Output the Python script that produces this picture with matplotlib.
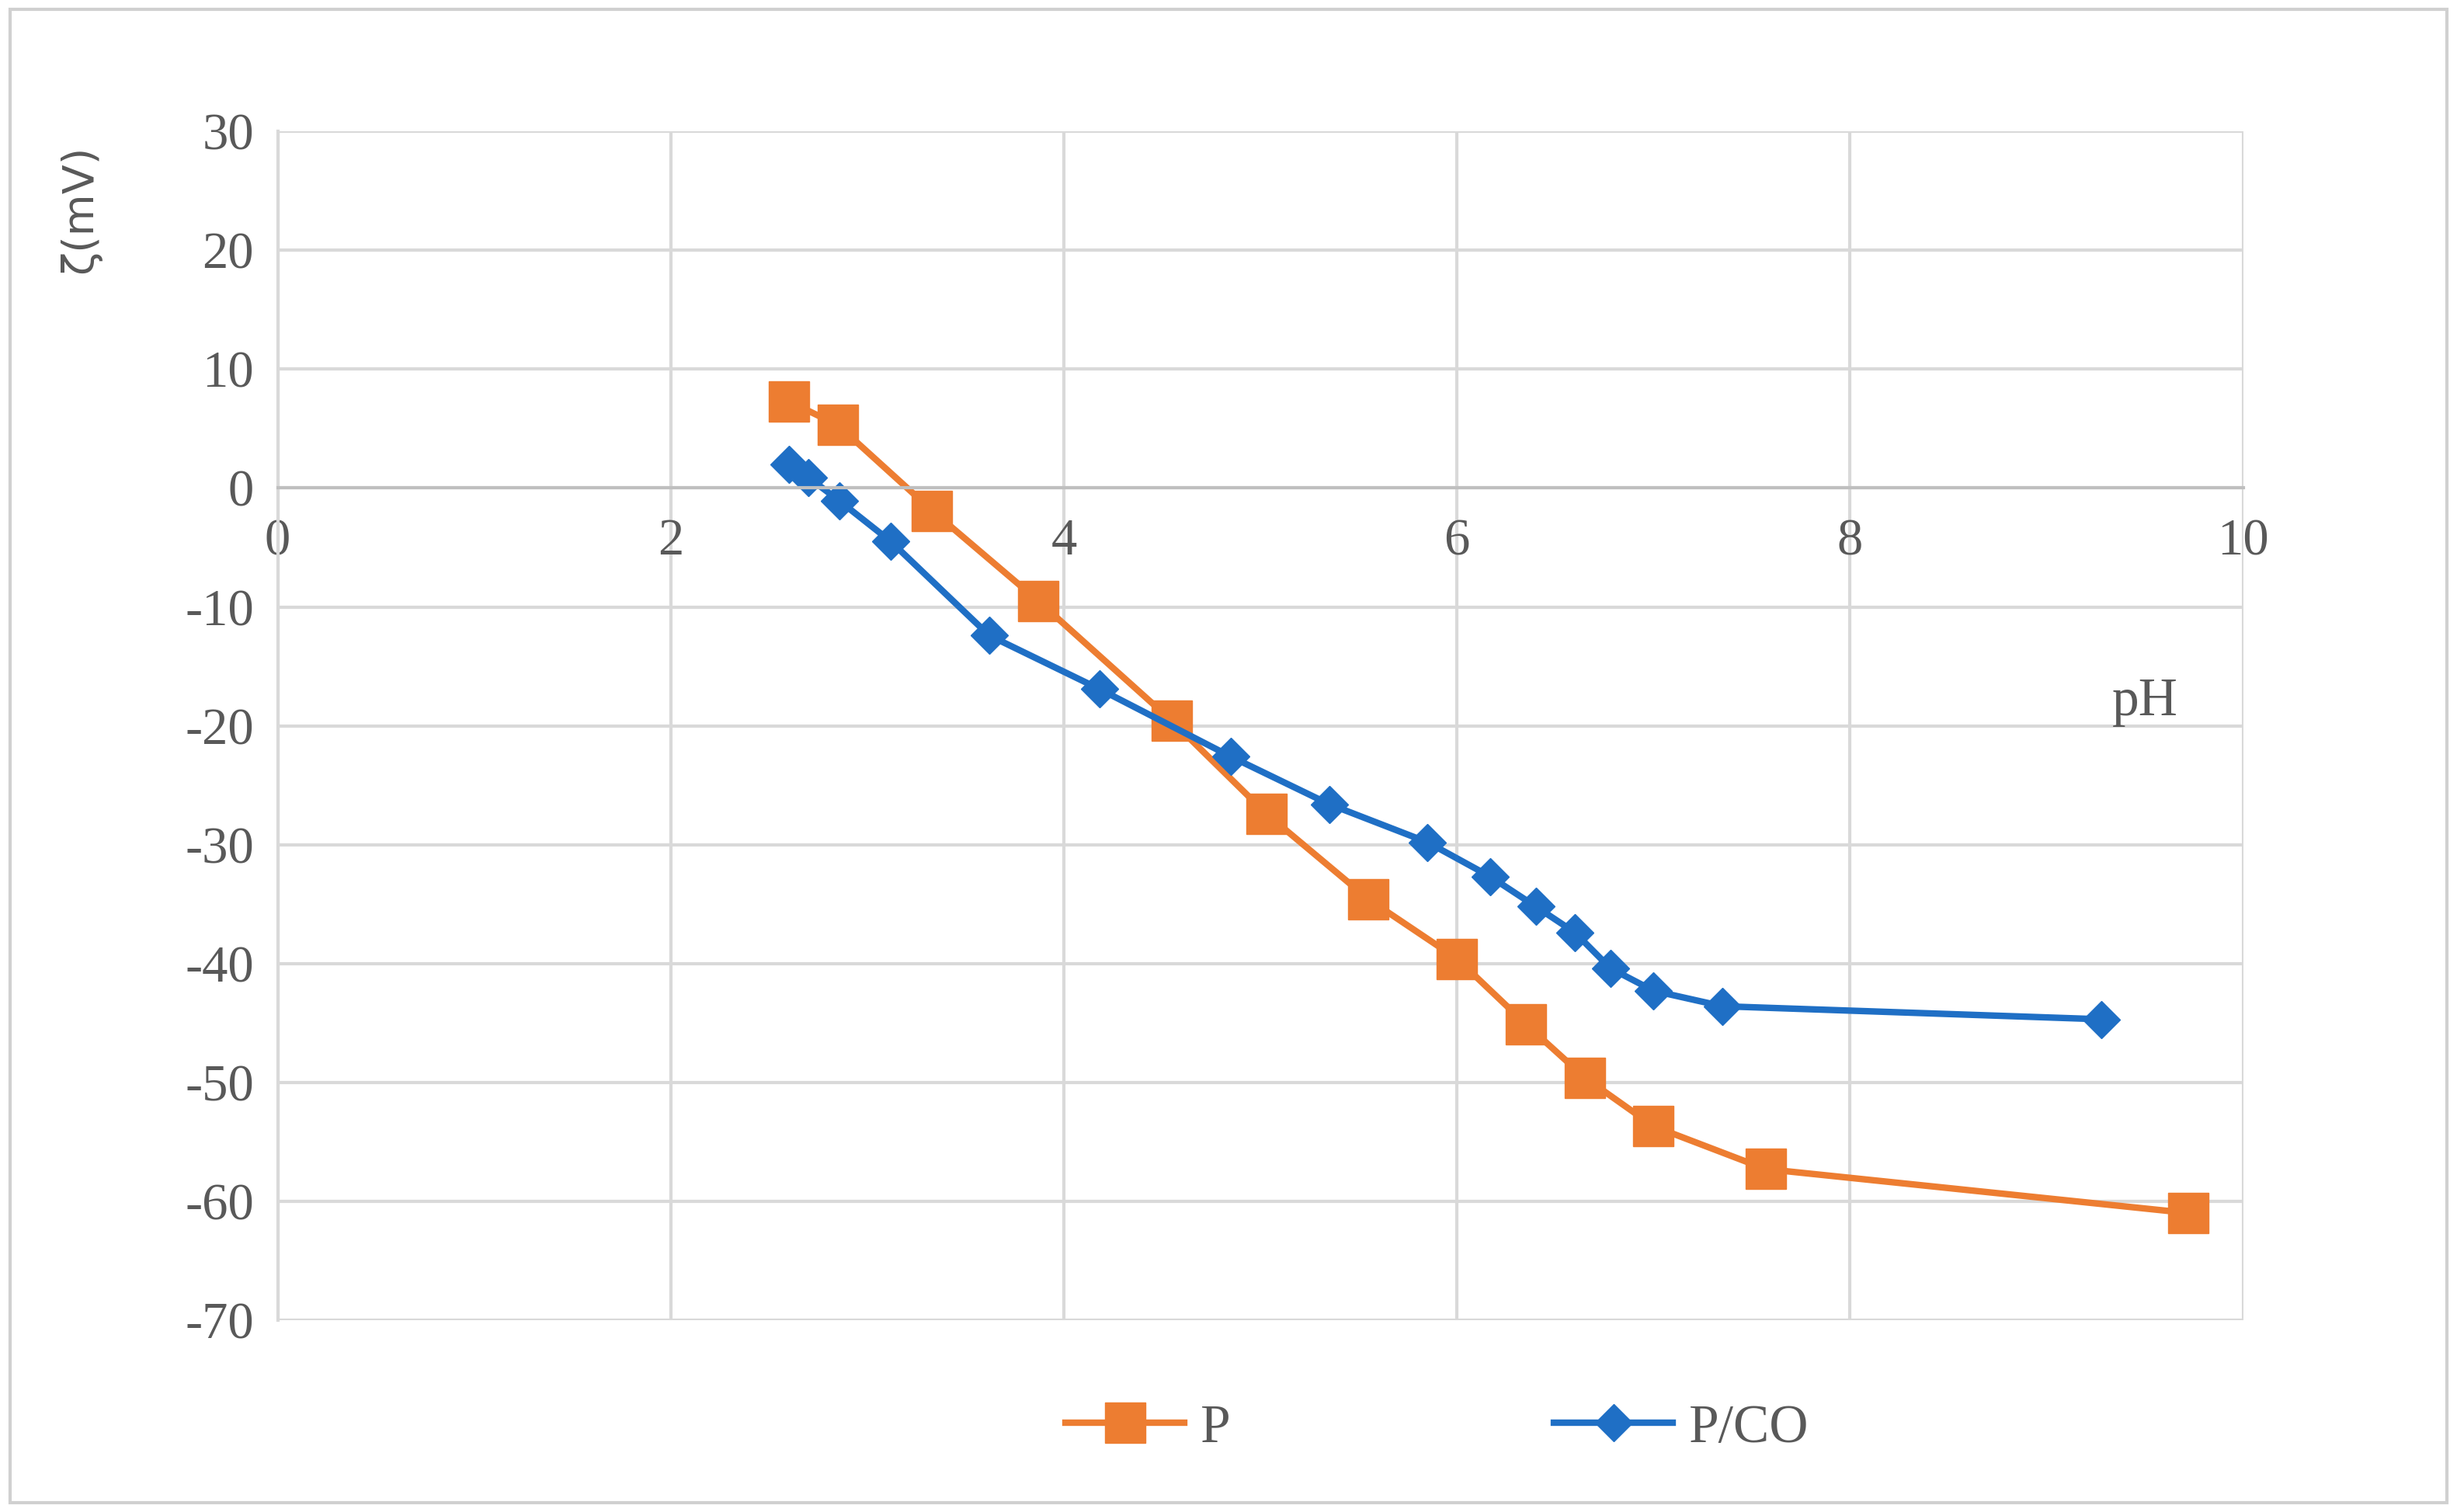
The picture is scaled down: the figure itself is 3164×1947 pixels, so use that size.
import matplotlib
matplotlib.use("Agg")
import matplotlib.pyplot as plt
from matplotlib.patches import Rectangle
plt.rcParams['axes.unicode_minus'] = False

p_x = [2.6, 2.85, 3.33, 3.87, 4.55, 5.03, 5.55, 6.0, 6.35, 6.65, 7.0, 7.57, 9.72]
p_y = [7.3, 5.3, -1.9, -9.5, -19.6, -27.4, -34.6, -39.6, -45.1, -49.6, -53.7, -57.3, -61.0]
pco_x = [2.6, 2.7, 2.86, 3.12, 3.62, 4.18, 4.85, 5.35, 5.85, 6.17, 6.4, 6.6, 6.78, 7.0, 7.35, 9.28]
pco_y = [2.0, 0.9, -1.1, -4.5, -12.4, -16.9, -22.6, -26.6, -29.8, -32.7, -35.2, -37.4, -40.4, -42.3, -43.6, -44.7]
x_ticks = [0, 2, 4, 6, 8, 10]
y_ticks = [30, 20, 10, 0, -10, -20, -30, -40, -50, -60, -70]

fig = plt.figure(figsize=(31.64, 19.47), dpi=100)
fig.patches.append(Rectangle((0.004, 0.006), 0.992, 0.988, transform=fig.transFigure,
                             fill=False, edgecolor='#D0D0D0', linewidth=3))
ax = fig.add_axes([0.113, 0.127, 0.8, 0.786])
ax.set_xlim(0, 10)
ax.set_ylim(-70, 30)
ax.set_xticks(x_ticks)
ax.set_yticks(y_ticks)
ax.grid(True, color='#D9D9D9', linewidth=3)
ax.set_axisbelow(True)
for s in ['top', 'right']:
    ax.spines[s].set_visible(False)
ax.spines['left'].set_color('#D9D9D9'); ax.spines['left'].set_linewidth(3)
ax.spines['bottom'].set_position(('data', 0))
ax.spines['bottom'].set_color('#BFBFBF'); ax.spines['bottom'].set_linewidth(3)
ax.tick_params(axis='y', length=0, labelsize=48, colors='#595959', pad=22)
ax.tick_params(axis='x', length=0, labelsize=48, colors='#595959', pad=28)
for l in ax.get_xticklabels() + ax.get_yticklabels():
    l.set_family('Liberation Serif')
ax.plot(p_x, p_y, color='#ED7D31', linewidth=6, marker='s', markersize=38, label='P')
ax.plot(pco_x, pco_y, color='#1F6FC5', linewidth=6, marker='D', markersize=24, label='P/CO')
ax.text(9.5, -18, 'pH', fontsize=50, family='Liberation Serif', color='#595959', ha='center', va='center')
ax.set_ylabel('ζ(mV)', fontsize=40, color='#595959', family='DejaVu Sans')
ax.yaxis.set_label_coords(-0.09, 0.935)
leg = fig.legend(loc='center', bbox_to_anchor=(0.585, 0.055), ncol=2, frameon=False,
                 prop={'family': 'Liberation Serif', 'size': 50},
                 handlelength=2.2, handletextpad=0.3, columnspacing=6)
for t in leg.get_texts():
    t.set_color('#595959')
fig.savefig('out.png', dpi=100)
